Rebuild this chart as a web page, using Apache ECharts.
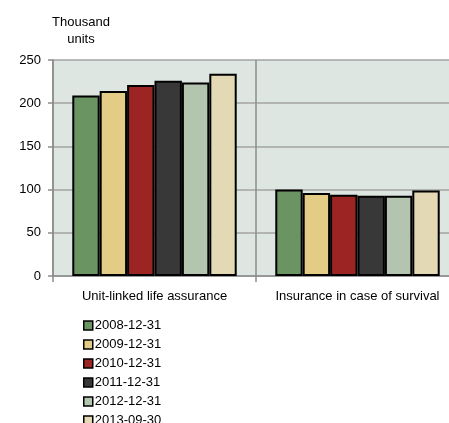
<!DOCTYPE html>
<html>
<head>
<meta charset="utf-8">
<script src="https://cdn.jsdelivr.net/npm/echarts@6/dist/echarts.min.js"></script>
<style>
  html, body { margin: 0; padding: 0; background: #ffffff; overflow: hidden; }
  /* the plot runs past the right edge of the window, so the canvas is wider than the page */
  #chart { width: 460px; height: 423px; }
</style>
</head>
<body>
<div id="chart"></div>
<script>
// Insurance lines shown on the category axis
var categories = ['Unit-linked life assurance', 'Insurance in case of survival'];

// Reporting dates, one series each
var seriesNames = ['2008-12-31', '2009-12-31', '2010-12-31', '2011-12-31', '2012-12-31', '2013-09-30'];

// Values in thousand units, per date
var v2008 = [209, 100];
var v2009 = [214, 96];
var v2010 = [221, 94];
var v2011 = [226, 93];
var v2012 = [224, 93];
var v2013 = [234, 99];

var seriesValues = [v2008, v2009, v2010, v2011, v2012, v2013];
var seriesColors = ['#6a9462', '#e2cc86', '#9c2524', '#383838', '#b3c4af', '#e3d9b4'];

// Value axis ticks
var yTicks = [0, 50, 100, 150, 200, 250];

var font = 'Liberation Sans, Arial, sans-serif';

var chart = echarts.init(document.getElementById('chart'), null, { renderer: 'canvas' });

var series = seriesNames.map(function (name, i) {
  return {
    name: name,
    type: 'bar',
    data: seriesValues[i],
    barGap: '0%',
    barCategoryGap: '19%',
    itemStyle: {
      color: seriesColors[i],
      borderColor: '#000000',
      borderWidth: 2
    },
    emphasis: { disabled: true }
  };
});

chart.setOption({
  animation: false,
  backgroundColor: '#ffffff',
  title: {
    text: 'Thousand\nunits',
    left: 76,
    top: 9,
    textAlign: 'center',
    textStyle: {
      fontFamily: font,
      fontSize: 13,
      fontWeight: 'normal',
      color: '#000000',
      lineHeight: 17,
      align: 'center'
    }
  },
  legend: {
    orient: 'vertical',
    left: 78,
    top: 314,
    height: 140,
    itemWidth: 9,
    itemHeight: 9,
    itemGap: 6,
    icon: 'rect',
    selectedMode: false,
    textStyle: {
      fontFamily: font,
      fontSize: 13,
      color: '#000000',
      padding: [0, 0, 0, -3]
    },
    itemStyle: { borderColor: '#000000', borderWidth: 1.5 },
    data: seriesNames
  },
  grid: {
    left: 53,
    top: 60,
    width: 406,
    height: 216,
    show: true,
    backgroundColor: '#dde6e1',
    borderWidth: 0
  },
  xAxis: {
    type: 'category',
    data: categories,
    axisLine: { show: true, lineStyle: { color: '#8c8c8c', width: 1.5 } },
    axisTick: { show: true, interval: 0, length: 6, lineStyle: { color: '#8c8c8c', width: 1.5 } },
    splitLine: { show: true, interval: 0, lineStyle: { color: '#8c8c8c', width: 1.5 } },
    axisLabel: {
      interval: 0,
      fontFamily: font,
      fontSize: 13,
      color: '#000000',
      margin: 14
    }
  },
  yAxis: {
    type: 'value',
    min: yTicks[0],
    max: yTicks[yTicks.length - 1],
    interval: 50,
    axisLine: { show: true, lineStyle: { color: '#8c8c8c', width: 1.5 } },
    axisTick: { show: true, length: 5, lineStyle: { color: '#8c8c8c', width: 1.5 } },
    splitLine: { show: true, lineStyle: { color: '#a3a3a3', width: 1.5 } },
    axisLabel: {
      fontFamily: font,
      fontSize: 13,
      color: '#000000',
      margin: 12
    }
  },
  series: series
});
</script>
</body>
</html>
